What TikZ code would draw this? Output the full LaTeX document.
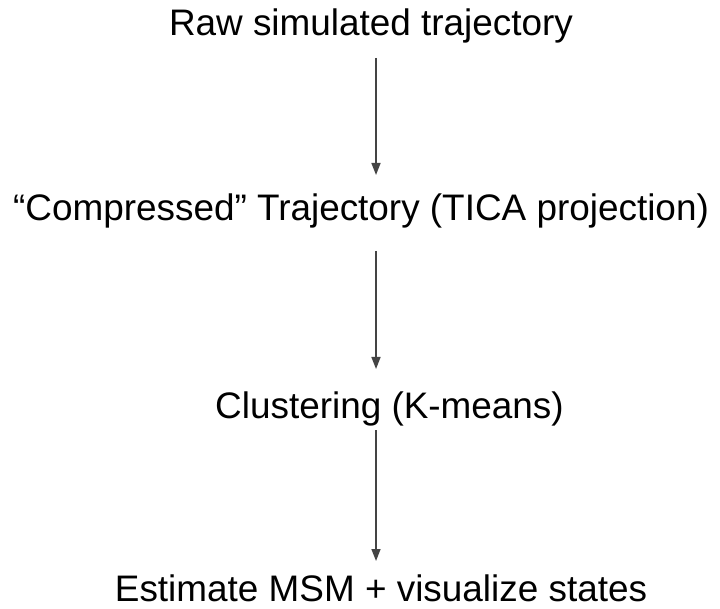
\documentclass[tikz,border=0pt]{standalone}
\usepackage{fontspec}
\setmainfont{Liberation Sans}
\usetikzlibrary{arrows.meta}
\definecolor{arrowgray}{HTML}{444444}
\tikzset{
  stage/.style={font=\fontsize{36.9}{40}\selectfont, text=black, inner sep=0pt, outer sep=0pt,
    anchor=base, text height=27pt, text depth=8pt},
  flow/.style={draw=arrowgray, line width=1.6pt, -{Triangle[length=12pt,width=9pt]}}
}
\begin{document}
\begin{tikzpicture}[x=1pt,y=-1pt]
  \useasboundingbox (0,0) rectangle (720,609);
  \fill[white] (0,0) rectangle (720,609);
  % vertical spine shared by all arrows
  \coordinate (spine) at (376,0);
  \node[stage] (raw)   at (371,36)  {Raw simulated trajectory};
  \node[stage] (tica)  at (361,221) {“Compressed” Trajectory (TICA projection)};
  \node[stage] (clust) at (389.5,418) {Clustering (K-means)};
  % last line has no descenders
  \node[stage, text depth=0pt] (est) at (381,601) {Estimate MSM + visualize states};
  \draw[flow, shorten <=14pt, shorten >=19pt] (raw.south -| spine) -- (tica.north -| spine);
  \draw[flow, shorten <=22pt, shorten >=22pt] (tica.south -| spine) -- (clust.north -| spine);
  \draw[flow, shorten <=4pt, shorten >=13pt] (clust.south -| spine) -- (est.north -| spine);
\end{tikzpicture}
\end{document}
